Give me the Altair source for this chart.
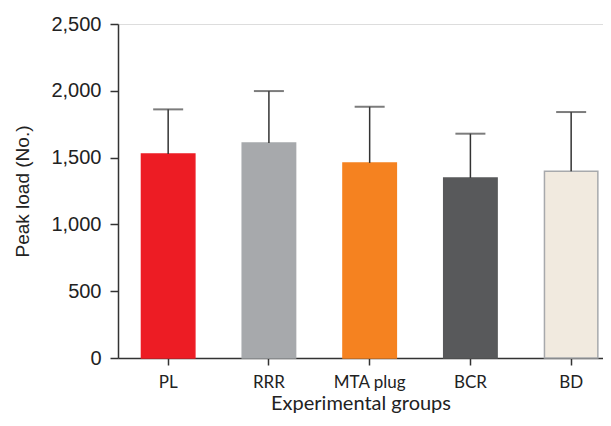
import altair as alt
import pandas as pd

groups = ["PL", "RRR", "MTA plug", "BCR", "BD"]
means = [1527, 1610, 1460, 1348, 1398]
upper = [1861, 1998, 1881, 1679, 1841]
colors = ["#ed1c24", "#a7a9ac", "#f58220", "#58595b", "#f1eadf"]
strokes = ["#ed1c24", "#a7a9ac", "#f58220", "#58595b", "#a7a9ac"]

df = pd.DataFrame({"group": groups, "mean": means, "upper": upper,
                   "color": colors, "stroke": strokes})

x_scale = alt.Scale(paddingInner=0.47, paddingOuter=0.142, align=0.82)

x = alt.X("group:N", sort=groups, title="Experimental groups", scale=x_scale,
          axis=alt.Axis(labelAngle=0, labelFont="Lato", labelFontSize=17,
                        labelColor="#222", labelPadding=9,
                        titleFont="Lato", titleFontSize=20, titleFontWeight="normal",
                        titleColor="#222", titlePadding=3,
                        tickSize=7, tickWidth=1.5, tickColor="#333",
                        domainColor="#333", domainWidth=1.5))

y_axis = alt.Axis(values=[0, 500, 1000, 1500, 2000, 2500], format=",.0f",
                  labelFont="Liberation Sans", labelFontSize=20, labelColor="#222",
                  labelPadding=9, tickSize=8, tickWidth=1.5, tickColor="#333",
                  domainColor="#333", domainWidth=1.5, grid=False,
                  title="Peak load (No.)", titleFont="Liberation Sans",
                  titleFontSize=19, titleFontWeight="normal", titleColor="#222",
                  titlePadding=18)

base = alt.Chart(df)

bars = base.mark_bar(strokeWidth=1.5).encode(
    x=x,
    y=alt.Y("mean:Q", scale=alt.Scale(domain=[0, 2500], nice=False), axis=y_axis),
    color=alt.Color("color:N", scale=None),
    stroke=alt.Stroke("stroke:N", scale=None),
)

err = base.mark_rule(color="#333", strokeWidth=1.5).encode(
    x=alt.X("group:N", sort=groups, scale=x_scale),
    y="mean:Q",
    y2="upper:Q",
)

cap = base.mark_tick(color="#444", thickness=2, size=30, orient="horizontal").encode(
    x=alt.X("group:N", sort=groups, scale=x_scale),
    y="upper:Q",
)

chart = (bars + err + cap).properties(
    width=485, height=334,
    autosize=alt.AutoSizeParams(type="none"),
    padding={"left": 110, "top": 16, "right": 0, "bottom": 60},
).configure_view(stroke=None).configure(background="white")

chart.save("out.html", embed_options={"renderer": "svg", "actions": False})
